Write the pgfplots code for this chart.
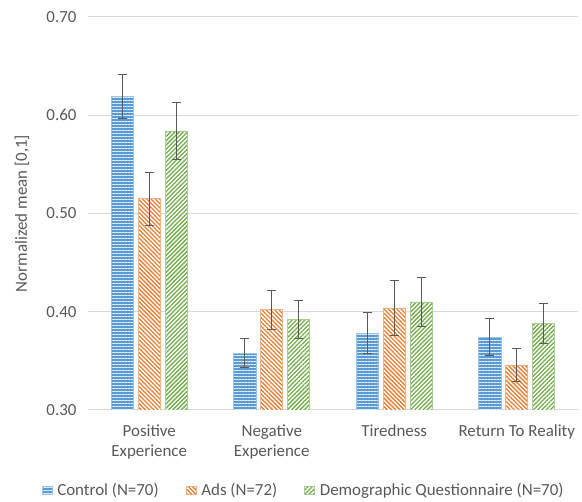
\documentclass[border=0pt]{standalone}
\usepackage{pgfplots}
\pgfplotsset{compat=1.18}
\usepackage{fontspec}
\setmainfont{Carlito}
\usetikzlibrary{patterns.meta}
\definecolor{cblue}{HTML}{5B9BD5}
\definecolor{corange}{HTML}{ED7D31}
\definecolor{cgreen}{HTML}{70AD47}
\definecolor{ctext}{HTML}{595959}
\definecolor{cgrid}{HTML}{D9D9D9}
\definecolor{cerr}{HTML}{595959}
\begin{document}
\begin{tikzpicture}
\path[use as bounding box] (0,0) rectangle (582bp,502bp);
\begin{axis}[
  at={(88bp,92bp)}, anchor=south west,
  scale only axis, width=490bp, height=393bp,
  ymin=0.30, ymax=0.70, ytick={0.30,0.40,0.50,0.60,0.70},
  xmin=-0.5, xmax=3.5,
  xtick={0,1,2,3},
  xticklabels={{Positive\\Experience},{Negative\\Experience},{Tiredness},{Return To Reality}},
  xticklabel style={align=center, text=ctext, font=\fontsize{17}{20.5}\selectfont, anchor=north, yshift=-11bp},
  yticklabel style={text=ctext, font=\fontsize{17}{20}\selectfont, xshift=-8bp},
  /pgf/number format/assume math mode=true,
  /pgf/number format/.cd, fixed, fixed zerofill, precision=2, /pgfplots/.cd,
  ymajorgrids, grid style={cgrid, line width=1bp},
  axis line style={draw=none},
  major tick length=0pt,
  ylabel={Normalized mean [0,1]},
  ylabel style={at={(axis description cs:-0.135,0.5)}, anchor=center, text=ctext, font=\fontsize{17}{20}\selectfont},
  ybar, bar width=0.18,
  legend columns=3,
  legend style={at={(axis description cs:0.44,-0.204)}, anchor=center, draw=none, fill=none,
    font=\fontsize{17}{20}\selectfont, text=ctext,
    /tikz/every odd column/.append style={column sep=3bp},
    /tikz/every even column/.append style={column sep=25bp}},
  legend image code/.code={\path[#1] (0bp,-4bp) rectangle (10bp,4bp);},
  error bars/error bar style={cerr, line width=1bp},
  error bars/error mark options={rotate=90, mark size=4.5bp, line width=1bp, cerr},
]
\addplot[bar shift=-0.22, fill=cblue, draw=cblue!60, line width=0.6bp,
  postaction={pattern={Lines[angle=0, distance=3bp, line width=0.8bp]}, pattern color=white!85!cblue},
  error bars/.cd, y dir=both, y explicit]
  coordinates {(0,0.619) +- (0,0.022) (1,0.358) +- (0,0.015) (2,0.378) +- (0,0.021) (3,0.374) +- (0,0.019)};
\addplot[bar shift=0, fill=white, draw=corange!60, line width=0.6bp,
  postaction={pattern={Lines[angle=-45, distance=3bp, line width=1.3bp]}, pattern color=corange},
  error bars/.cd, y dir=both, y explicit]
  coordinates {(0,0.515) +- (0,0.027) (1,0.402) +- (0,0.020) (2,0.404) +- (0,0.028) (3,0.346) +- (0,0.017)};
\addplot[bar shift=0.22, fill=white, draw=cgreen!60, line width=0.6bp,
  postaction={pattern={Lines[angle=45, distance=3bp, line width=1.3bp]}, pattern color=cgreen},
  error bars/.cd, y dir=both, y explicit]
  coordinates {(0,0.584) +- (0,0.029) (1,0.392) +- (0,0.019) (2,0.410) +- (0,0.025) (3,0.388) +- (0,0.020)};
\legend{Control (N=70), Ads (N=72), Demographic Questionnaire (N=70)}
\end{axis}
\end{tikzpicture}
\end{document}
